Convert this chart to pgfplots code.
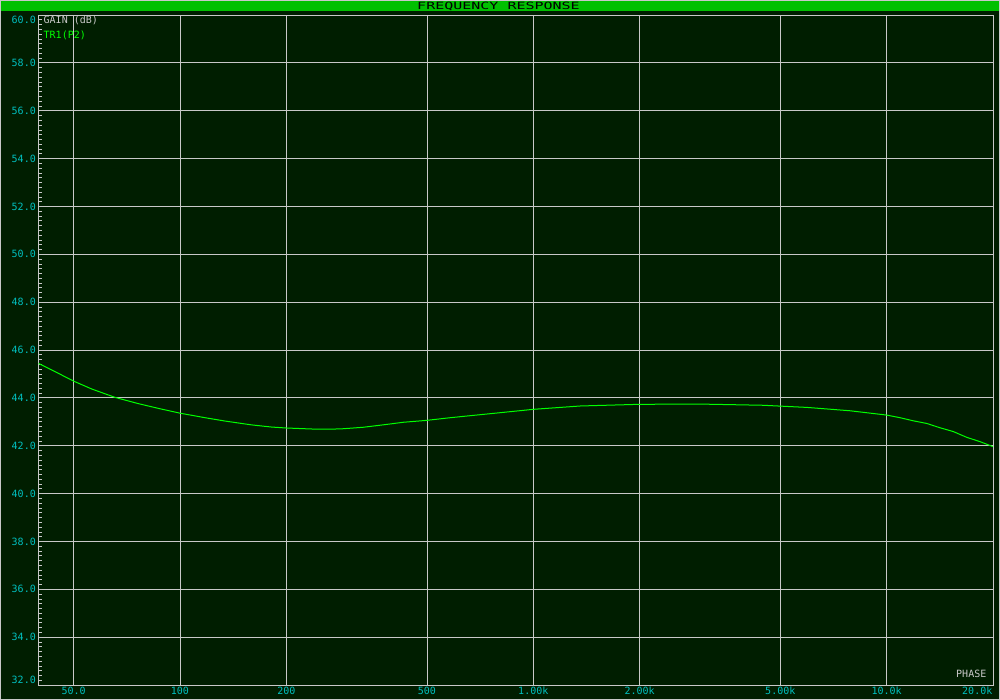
\documentclass[border=0pt]{standalone}
\usepackage{fontspec}
\setmainfont{DejaVu Sans Mono}
\usepackage{graphicx}
\usepackage{pgfplots}
\pgfplotsset{compat=1.18}
\definecolor{bg}{RGB}{0,30,0}
\definecolor{titlegreen}{RGB}{0,192,0}
\definecolor{gridgray}{RGB}{200,200,200}
\definecolor{curvegreen}{RGB}{0,255,0}
\definecolor{labelcyan}{RGB}{0,192,192}
\begin{document}
\begin{tikzpicture}[x=1pt,y=1pt]
\fill[bg] (0,0) rectangle (1000,700);
\path[use as bounding box] (0,0) rectangle (1000,700);
\fill[titlegreen] (0,688.5) rectangle (1000,699);
\node[font=\fontsize{10}{12}\selectfont, text=black, inner sep=0pt] at (498.5,693.6) {\scalebox{1.5}[1]{FREQUENCY RESPONSE}};
\begin{axis}[
  at={(38.5pt,15pt)}, anchor=south west,
  scale only axis, width=954.5pt, height=670pt,
  xmode=log, xmin=39.8, xmax=20000, ymin=32, ymax=60,
  axis line style={gridgray, line width=0.9pt},
  xtick={50,100,200,500,1000,2000,5000,10000},
  xticklabels={50.0,100,200,500,1.00k,2.00k,5.00k,10.0k},
  ytick={32,34,...,60},
  yticklabels={,34.0,36.0,38.0,40.0,42.0,44.0,46.0,48.0,50.0,52.0,54.0,56.0,58.0,},
  xmajorgrids, ymajorgrids,
  major grid style={gridgray, line width=0.8pt},
  minor y tick num=9,
  major tick length=0pt, minor tick length=3pt,
  minor y tick style={gridgray, line width=0.6pt},
  minor x tick style={draw=none},
  ytick pos=left, xtick pos=bottom, tick align=inside,
  /pgf/number format/assume math mode=true,
  every tick label/.append style={font=\fontsize{10}{12}\selectfont, text=labelcyan},
  yticklabel style={anchor=east, inner sep=0pt, xshift=-2.5pt},
  xticklabel style={anchor=north, inner sep=0pt, yshift=-2.2pt},
  clip=true,
]
\addplot[curvegreen, line width=1pt, line join=round] coordinates {
(39.8,45.44) (44.4,45.09) (50,44.70) (56.3,44.37) (65.5,44.02) (76.2,43.76)
(86.9,43.56) (100,43.36) (117.8,43.17) (134.2,43.03) (159.5,42.87)
(181.7,42.78) (200,42.74) (244,42.69) (284,42.70) (330,42.77) (380,42.88)
(429,42.98) (500,43.06) (582,43.17) (690,43.28) (806,43.38) (1000,43.52)
(1358,43.66) (2000,43.73) (2965,43.74) (4467,43.69) (5956,43.60)
(7880,43.46) (10000,43.28) (10914,43.17) (11898,43.04) (12985,42.93)
(14158,42.75) (15446,42.59) (16850,42.35) (18377,42.17) (20000,41.96)
};
\end{axis}
\begin{scope}[every node/.style={font=\fontsize{10}{12}\selectfont, inner sep=0pt}]
\node[text=labelcyan, anchor=east] at (36,679.7) {60.0};
\node[text=labelcyan, anchor=east] at (36,19.7) {32.0};
\node[text=labelcyan, anchor=north east] at (992.5,12.8) {20.0k};
\node[text=gridgray, anchor=west] at (43.5,679.3) {GAIN (dB)};
\node[text=curvegreen, anchor=west] at (43.5,664.3) {TR1(P2)};
\node[text=gridgray, anchor=east] at (986.5,25.7) {PHASE};
\end{scope}
\draw[gridgray, line width=1pt] (0.5,0.5) rectangle (999.5,699.5);
\end{tikzpicture}
\end{document}
